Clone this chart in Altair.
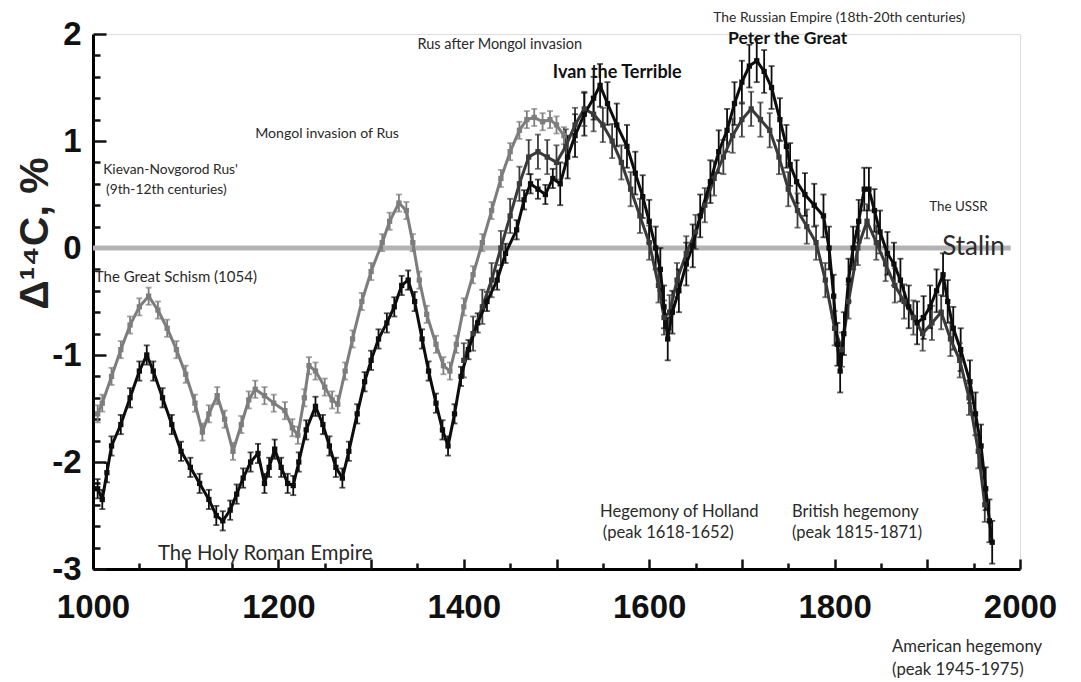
import altair as alt
import pandas as pd

# ---- data ----
grey_years = [1005, 1010, 1020, 1030, 1040, 1050, 1060, 1070, 1080, 1090, 1100, 1110, 1118, 1125,
              1134, 1142, 1151, 1160, 1168, 1175, 1185, 1195, 1207, 1215, 1221, 1228, 1233, 1240,
              1250, 1258, 1264, 1272, 1280, 1290, 1300, 1312, 1320, 1330, 1338, 1345, 1352, 1360,
              1370, 1378, 1385, 1392, 1400, 1410, 1420, 1430, 1440, 1450, 1460, 1468, 1476, 1485,
              1493, 1500, 1508]
grey_vals = [-1.55, -1.45, -1.20, -0.95, -0.72, -0.55, -0.45, -0.58, -0.75, -0.95, -1.18, -1.45, -1.72, -1.55,
             -1.38, -1.60, -1.90, -1.65, -1.42, -1.32, -1.38, -1.45, -1.52, -1.68, -1.75, -1.40, -1.10, -1.15,
             -1.30, -1.42, -1.46, -1.15, -0.85, -0.50, -0.22, 0.05, 0.25, 0.42, 0.35, 0.05, -0.30, -0.62,
             -0.90, -1.10, -1.15, -0.90, -0.55, -0.25, 0.05, 0.35, 0.65, 0.90, 1.10, 1.20, 1.22, 1.18,
             1.20, 1.15, 1.05]

black_years = [1005, 1010, 1015, 1020, 1030, 1040, 1050, 1058, 1065, 1075, 1085, 1095, 1105, 1115, 1125,
               1133, 1140, 1148, 1155, 1162, 1170, 1178, 1185, 1190, 1196, 1203, 1210, 1216, 1222, 1230,
               1240, 1248, 1255, 1262, 1269, 1276, 1285, 1293, 1300, 1308, 1317, 1325, 1333, 1340, 1347,
               1355, 1362, 1370, 1377, 1383, 1390, 1397, 1405, 1415, 1425, 1436, 1445, 1457, 1465, 1472,
               1480, 1488, 1496, 1504, 1512, 1520, 1530, 1540, 1547, 1555, 1565, 1576, 1585, 1593, 1600,
               1607, 1612, 1616, 1620, 1625, 1632, 1640, 1647, 1655, 1666, 1675, 1684, 1692, 1700, 1708,
               1716, 1724, 1732, 1741, 1748, 1752, 1759, 1768, 1778, 1788, 1794, 1799, 1803, 1806, 1810,
               1815, 1820, 1826, 1832, 1837, 1843, 1849, 1857, 1864, 1871, 1880, 1889, 1896, 1903, 1910,
               1917, 1922, 1928, 1936, 1946, 1952, 1958, 1963, 1967, 1970]
black_vals = [-2.25, -2.35, -2.10, -1.85, -1.65, -1.40, -1.15, -1.00, -1.15, -1.40, -1.65, -1.90, -2.05, -2.20, -2.35,
              -2.50, -2.55, -2.45, -2.30, -2.15, -2.00, -1.92, -2.20, -2.05, -1.88, -2.05, -2.20, -2.22, -2.00, -1.70,
              -1.48, -1.65, -1.85, -2.05, -2.15, -1.90, -1.55, -1.25, -1.05, -0.85, -0.70, -0.55, -0.35, -0.30, -0.50,
              -0.85, -1.15, -1.45, -1.70, -1.85, -1.55, -1.20, -0.95, -0.70, -0.50, -0.30, -0.05, 0.17, 0.45, 0.60,
              0.55, 0.50, 0.65, 0.60, 0.85, 1.05, 1.25, 1.40, 1.52, 1.35, 1.15, 0.95, 0.70, 0.48, 0.25,
              0.00, -0.20, -0.55, -0.85, -0.60, -0.40, -0.15, 0.02, 0.30, 0.62, 0.90, 1.10, 1.35, 1.55, 1.70,
              1.75, 1.65, 1.50, 1.20, 0.95, 0.78, 0.62, 0.50, 0.40, 0.30, 0.00, -0.45, -0.90, -1.15, -0.80,
              -0.30, 0.00, 0.25, 0.55, 0.55, 0.35, 0.15, -0.05, -0.15, -0.30, -0.55, -0.70, -0.65, -0.55, -0.40,
              -0.25, -0.50, -0.75, -0.95, -1.25, -1.55, -1.85, -2.25, -2.55, -2.75]

mid_years = [1400, 1410, 1420, 1430, 1440, 1450, 1460, 1470, 1480, 1490, 1500, 1510, 1520, 1530, 1540,
             1550, 1560, 1570, 1580, 1590, 1600, 1610, 1616, 1622, 1630, 1640, 1650, 1660, 1670, 1680,
             1690, 1700, 1710, 1720, 1730, 1740, 1750, 1760, 1770, 1780, 1790, 1800, 1808, 1815, 1825,
             1835, 1845, 1855, 1865, 1875, 1885, 1895, 1905, 1915, 1925, 1935, 1945, 1955, 1962]
mid_vals = [-1.05, -0.80, -0.55, -0.30, 0.00, 0.30, 0.60, 0.85, 0.90, 0.85, 0.80, 0.95, 1.15, 1.30, 1.25,
            1.15, 1.00, 0.80, 0.55, 0.30, 0.05, -0.35, -0.65, -0.60, -0.30, -0.05, 0.15, 0.40, 0.65, 0.85,
            1.05, 1.20, 1.30, 1.20, 1.10, 0.85, 0.55, 0.35, 0.20, 0.05, -0.30, -0.75, -0.95, -0.50, 0.00,
            0.25, 0.05, -0.15, -0.35, -0.50, -0.65, -0.80, -0.70, -0.60, -0.85, -1.05, -1.40, -1.90, -2.40]

grey_err = 0.08
black_err_early = 0.09
black_err_late = 0.2
mid_err = 0.16

series_names = ["grey", "mid", "black"]
series_colors = ["#7d7d7d", "#3a3a3a", "#0d0d0d"]

zero_line = {"x": [1000], "x2": [1990], "y": [0.0]}

ann_text = ["Kievan-Novgorod Rus'", "(9th-12th centuries)", "The Great Schism (1054)",
            "Mongol invasion of Rus", "Rus after Mongol invasion", "Ivan the Terrible",
            "The Russian Empire (18th-20th centuries)", "Peter the Great", "The USSR", "Stalin",
            "Hegemony of Holland", "(peak 1618-1652)", "British hegemony", "(peak 1815-1871)",
            "The Holy Roman Empire", "American hegemony", "(peak 1945-1975)"]
ann_year = [1011, 1014, 1002, 1175, 1350, 1496, 1669, 1685, 1902, 1916,
            1547, 1550, 1754, 1754, 1070, 1862, 1862]
ann_val = [0.73, 0.54, -0.27, 1.07, 1.90, 1.64, 2.145, 1.955, 0.38, 0.01,
           -2.47, -2.66, -2.47, -2.66, -2.86, -3.73, -3.94]
ann_size = [13.8, 13.8, 15, 14.1, 14.5, 18, 13.9, 17.5, 13.4, 26,
            16.6, 16.6, 16.5, 16.5, 20.3, 16.7, 16.7]
ann_bold = [False, False, False, False, False, True, False, True, False, False,
            False, False, False, False, False, False, False]

x_labels = [1000, 1200, 1400, 1600, 1800, 2000]
y_labels = [-3, -2, -1, 0, 1, 2]
x_major_ticks = [1000, 1100, 1200, 1300, 1400, 1500, 1600, 1700, 1800, 1900, 2000]
x_minor_ticks = [1050, 1150, 1250, 1350, 1450, 1550, 1650, 1750, 1850, 1950]
y_minor_ticks = [-2.8, -2.6, -2.4, -2.2, -1.8, -1.6, -1.4, -1.2, -0.8, -0.6, -0.4, -0.2,
                 0.2, 0.4, 0.6, 0.8, 1.2, 1.4, 1.6, 1.8]

# ---- build table ----
rows = []
for yr, v in zip(grey_years, grey_vals):
    rows.append({"series": "grey", "year": yr, "val": v, "err": grey_err})
for yr, v in zip(mid_years, mid_vals):
    rows.append({"series": "mid", "year": yr, "val": v, "err": mid_err})
for yr, v in zip(black_years, black_vals):
    rows.append({"series": "black", "year": yr, "val": v,
                 "err": black_err_early if yr < 1500 else black_err_late})
df = pd.DataFrame(rows)
df["lo"] = df["val"] - df["err"]
df["hi"] = df["val"] + df["err"]

ann = pd.DataFrame({"text": ann_text, "year": ann_year, "val": ann_val,
                    "size": ann_size, "bold": ann_bold})

xs = alt.Scale(domain=[1000, 2000], nice=False)
ys = alt.Scale(domain=[-3, 2], nice=False)
col = alt.Color("series:N", scale=alt.Scale(domain=series_names, range=series_colors), legend=None)

AXFONT = "Liberation Sans, Arial"

# main axes (labels + domain line)
zero = alt.Chart(pd.DataFrame(zero_line)).mark_rule(color="#b3b3b3", strokeWidth=5).encode(
    x=alt.X("x:Q", scale=xs, axis=alt.Axis(values=x_labels, labelExpr="'' + datum.value", tickSize=0,
                                          labelPadding=22, labelFlush=False, labelOverlap=False,
                                          labelFont=AXFONT, labelFontSize=33, labelFontWeight="bold",
                                          labelColor="#111", domainColor="#000", domainWidth=3,
                                          grid=False, title=None, orient="bottom")),
    x2="x2:Q",
    y=alt.Y("y:Q", scale=ys, axis=alt.Axis(values=y_labels, labelExpr="'' + datum.value", tickSize=0,
                                          labelPadding=12, labelFlush=False, labelOverlap=False,
                                          labelFont=AXFONT, labelFontSize=33, labelFontWeight="bold",
                                          labelColor="#111", domainColor="#000", domainWidth=3,
                                          grid=False, orient="left",
                                          title="Δ¹⁴C, %", titleFont="Liberation Sans",
                                          titleFontSize=41, titleFontWeight="bold", titleColor="#222",
                                          titleX=-58, titleY=199, titleAngle=270,
                                          titleBaseline="middle", titleAlign="center")),
)

def tick_layer(xvals, xsize, yvals, ysize):
    return alt.Chart(pd.DataFrame(zero_line)).mark_rule(opacity=0).encode(
        x=alt.X("x:Q", scale=xs, axis=alt.Axis(values=xvals, tickSize=xsize, offset=-xsize, labels=False,
                                              domain=False, grid=False, title=None, tickWidth=2.5,
                                              tickColor="#111", orient="bottom")),
        y=alt.Y("y:Q", scale=ys, axis=alt.Axis(values=yvals, tickSize=ysize, offset=-ysize, labels=False,
                                              domain=False, grid=False, title=None, tickWidth=2.5,
                                              tickColor="#111", orient="left")),
    )

ticks_major = tick_layer(x_major_ticks, 10, y_labels, 13)
ticks_minor = tick_layer(x_minor_ticks, 6, y_minor_ticks, 7)

base = alt.Chart(df)
X = alt.X("year:Q", scale=xs, axis=None)
errs = base.mark_rule(strokeWidth=1.8).encode(
    x=X, y=alt.Y("lo:Q", scale=ys, axis=None), y2="hi:Q", color=col)
cap_lo = base.mark_tick(thickness=1.8, size=6, orient="horizontal").encode(
    x=X, y=alt.Y("lo:Q", scale=ys, axis=None), color=col)
cap_hi = base.mark_tick(thickness=1.8, size=6, orient="horizontal").encode(
    x=X, y=alt.Y("hi:Q", scale=ys, axis=None), color=col)
lines = base.mark_line(strokeWidth=3).encode(
    x=X, y=alt.Y("val:Q", scale=ys, axis=None),
    color=col, detail="series:N", order="year:Q")
pts = base.mark_point(shape="square", filled=True, size=28, opacity=1).encode(
    x=X, y=alt.Y("val:Q", scale=ys, axis=None), color=col)

tbase = alt.Chart(ann)
def text_layer(bold):
    return tbase.transform_filter(
        alt.datum.bold if bold else ~alt.datum.bold
    ).mark_text(align="left", baseline="middle", font="Lato",
                color="#111111" if bold else "#2a2a2a",
                fontWeight="bold" if bold else "normal").encode(
        x=alt.X("year:Q", scale=xs, axis=None), y=alt.Y("val:Q", scale=ys, axis=None),
        text="text:N", size=alt.Size("size:Q", scale=None, legend=None))

chart = alt.layer(zero, ticks_major, ticks_minor, errs, cap_lo, cap_hi, lines, pts,
                  text_layer(False), text_layer(True)).resolve_axis(
    x="independent", y="independent"
).properties(
    width=927, height=535,
    autosize=alt.AutoSizeParams(type="none"),
    padding={"left": 85, "top": 26, "right": 40, "bottom": 112},
).configure_view(stroke=None).configure(background="white")

chart.save("out.html", embed_options={"renderer": "svg", "actions": False})
